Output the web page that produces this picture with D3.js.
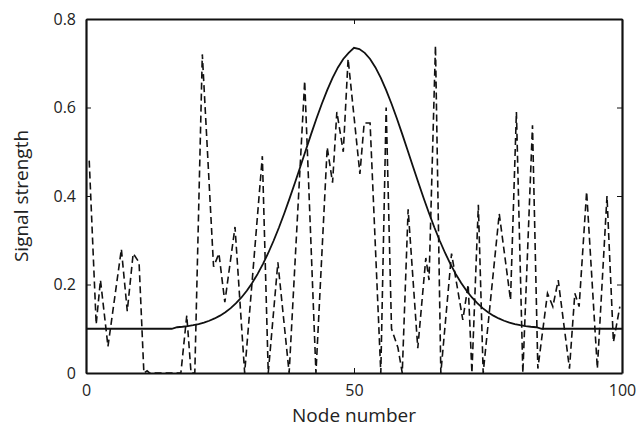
<!DOCTYPE html>
<html>
<head>
<meta charset="utf-8">
<script src="https://cdn.jsdelivr.net/npm/d3@7"></script>
<style>
  body { margin: 0; background: #fff; }
  text { font-family: "Open Sans", sans-serif; fill: #222; }
</style>
</head>
<body>
<div id="chart-area"></div>
<script>
var measuredNodes = [0.6, 1.9, 2.7, 4.1, 6.6, 7.7, 8.8, 9.9, 10.8, 11.4, 11.9, 17.7, 18.8, 19.6, 20.3,
    21.7, 23.8, 24.8, 25.9, 27.8, 29.6, 32.9, 34.0, 35.8, 37.9, 40.8, 42.9, 45.0, 46.0, 46.8,
    48.0, 48.9, 51.1, 51.9, 53.0, 55.0, 56.0, 57.0, 58.2, 59.0, 60.1, 61.9, 63.4, 64.0, 65.2,
    66.2, 68.2, 70.3, 71.3, 72.0, 73.2, 74.1, 77.1, 79.2, 80.3, 81.5, 83.3, 84.3, 86.1, 87.1,
    88.1, 90.2, 91.2, 92.0, 93.4, 95.4, 97.2, 98.4, 99.6];
var measuredValues = [0.48, 0.11, 0.21, 0.06, 0.28, 0.14, 0.27, 0.25, 0, 0.005, 0, 0, 0.13, 0, 0,
    0.72, 0.24, 0.27, 0.16, 0.33, 0, 0.49, 0, 0.25, 0, 0.66, 0, 0.51, 0.43, 0.59,
    0.50, 0.71, 0.45, 0.565, 0.565, 0, 0.60, 0.10, 0.057, 0, 0.37, 0.056, 0.26, 0.21, 0.74,
    0, 0.27, 0.12, 0.20, 0, 0.38, 0, 0.36, 0.165, 0.59, 0, 0.56, 0.01, 0.18, 0.15,
    0.21, 0.01, 0.18, 0.15, 0.41, 0.01, 0.40, 0.07, 0.15];

// Smooth (solid) curve, one value per node 0..100
var curveValues = [
    0.1, 0.1, 0.1, 0.1, 0.1, 0.1, 0.1, 0.1, 0.1, 0.1,
    0.1, 0.1, 0.1, 0.1, 0.1, 0.1, 0.1, 0.1034, 0.1045, 0.1061,
    0.1081, 0.1107, 0.1140, 0.1181, 0.1233, 0.1296, 0.1373, 0.1466, 0.1577, 0.1707,
    0.1859, 0.2035, 0.2235, 0.2461, 0.2712, 0.2989, 0.3289, 0.3611, 0.3951, 0.4305,
    0.4668, 0.5035, 0.5398, 0.5750, 0.6085, 0.6393, 0.6669, 0.6906, 0.7096, 0.7236,
    0.7321, 0.735,
    0.7321, 0.7236, 0.7096, 0.6906, 0.6669, 0.6393, 0.6085, 0.5750, 0.5398, 0.5035,
    0.4668, 0.4305, 0.3951, 0.3611, 0.3289, 0.2989, 0.2712, 0.2461, 0.2235, 0.2035,
    0.1859, 0.1707, 0.1577, 0.1466, 0.1373, 0.1296, 0.1233, 0.1181, 0.1140, 0.1107,
    0.1081, 0.1061, 0.1045, 0.1034, 0.1, 0.1, 0.1, 0.1, 0.1, 0.1,
    0.1, 0.1, 0.1, 0.1, 0.1, 0.1, 0.1, 0.1, 0.1, 0.1];
curveValues.splice(50, 1); // keep 101 entries (0..100), peak at node 50

var xTicks = [0, 50, 100];
var yTicks = [0, 0.2, 0.4, 0.6, 0.8];

var margin = { left: 86, right: 16, top: 19, bottom: 58 };
var width = 638 - margin.left - margin.right,
    height = 431 - margin.top - margin.bottom;

var svg = d3.select("#chart-area")
    .append("svg")
        .attr("width", 638)
        .attr("height", 431);

var g = svg.append("g")
    .attr("transform", "translate(" + margin.left + "," + margin.top + ")");

var x = d3.scaleLinear().domain([0, 100]).range([0, width]);
var y = d3.scaleLinear().domain([0, 0.8]).range([height, 0]);

var fmtY = function(d) { return d === 0 ? "0" : d3.format(".1f")(d); };

// Axes (ticks pointing inward)
var xAxis = g.append("g")
    .attr("transform", "translate(0," + height + ")")
    .call(d3.axisBottom(x).tickValues(xTicks).tickSizeInner(-5).tickSizeOuter(0).tickPadding(12));
var yAxis = g.append("g")
    .call(d3.axisLeft(y).tickValues(yTicks).tickSizeInner(-5).tickSizeOuter(0).tickPadding(10).tickFormat(fmtY));
var topAxis = g.append("g")
    .call(d3.axisTop(x).tickValues(xTicks).tickSizeInner(-5).tickSizeOuter(0).tickFormat(""));
var rightAxis = g.append("g")
    .attr("transform", "translate(" + width + ",0)")
    .call(d3.axisRight(y).tickValues(yTicks).tickSizeInner(-5).tickSizeOuter(0).tickFormat(""));

[xAxis, yAxis, topAxis, rightAxis].forEach(function(a) {
    a.select(".domain").attr("stroke", "#111").attr("stroke-width", 2.2);
    a.selectAll(".tick line").attr("stroke", "#111").attr("stroke-width", 1);
    a.selectAll(".tick text").attr("font-size", "16px").attr("fill", "#222")
        .attr("font-family", "Open Sans, sans-serif");
});

// Lines
var curveLine = d3.line()
    .x(function(d, i) { return x(i); })
    .y(function(d) { return y(d); });

var measuredLine = d3.line()
    .x(function(d) { return x(d); })
    .y(function(d, i) { return y(measuredValues[i]); });

g.append("path")
    .datum(measuredNodes)
    .attr("fill", "none")
    .attr("stroke", "#111")
    .attr("stroke-width", 1.6)
    .attr("stroke-dasharray", "7,4")
    .attr("d", measuredLine);

g.append("path")
    .datum(curveValues)
    .attr("fill", "none")
    .attr("stroke", "#111")
    .attr("stroke-width", 1.8)
    .attr("d", curveLine);

// Labels
g.append("text")
    .attr("x", width / 2)
    .attr("y", height + 49)
    .attr("font-size", "19px")
    .attr("text-anchor", "middle")
    .text("Node number");

g.append("text")
    .attr("x", -(height / 2))
    .attr("y", -58)
    .attr("font-size", "19px")
    .attr("text-anchor", "middle")
    .attr("transform", "rotate(-90)")
    .text("Signal strength");
</script>
</body>
</html>
